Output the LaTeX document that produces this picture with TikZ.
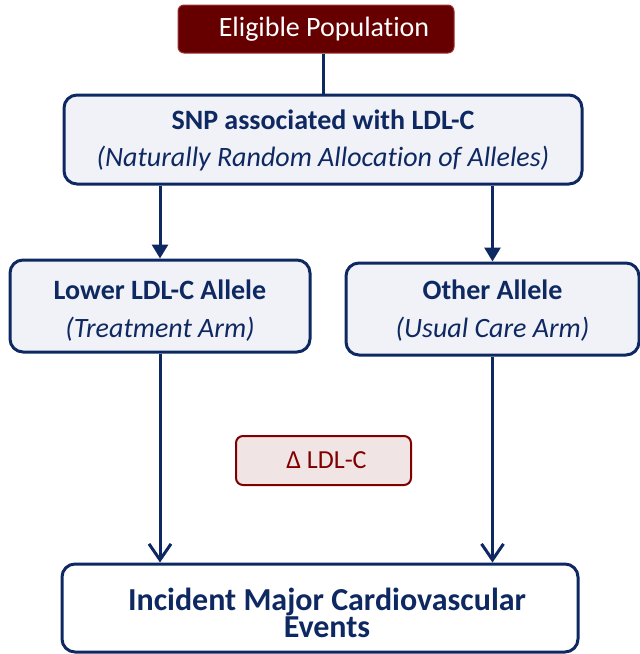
\documentclass[tikz,border=0pt]{standalone}
\usepackage{fontspec}
\setmainfont{Carlito}[Ligatures=NoCommon]
\usepackage{tikz}
\usetikzlibrary{positioning, arrows.meta}

\definecolor{navy}{RGB}{14,40,98}
\definecolor{paleblue}{RGB}{241,242,247}
\definecolor{maroon}{RGB}{102,0,0}
\definecolor{maroonline}{RGB}{160,50,50}
\definecolor{deltared}{RGB}{128,0,0}
\definecolor{palered}{RGB}{240,228,228}

\begin{document}
\begin{tikzpicture}[x=1pt, y=-1pt,
        box/.style={draw=navy, line width=3pt, rounded corners=13pt, fill=paleblue,
            text=navy, align=center, inner sep=0pt, font=\fontsize{28}{33}\selectfont},
        link/.style={navy, line width=3pt},
        fillarrow/.style={link, -{Triangle[width=16pt,length=14pt]}},
        openarrow/.style={link, -{Straight Barb[width=22pt,length=16pt]}}]
        \useasboundingbox (0,0) rectangle (640,654);

        \node[fill=maroon, draw=maroonline, line width=1pt, rounded corners=6pt,
            minimum width=276pt, minimum height=48pt, text=white,
            font=\fontsize{28}{32}\selectfont] (elig) at (316,29) {\hspace{16pt}Eligible Population};

        \node[box, minimum width=518pt, minimum height=89pt,
            text height=60pt, text depth=5.6pt] (snp) at (323,139.5) {
            \textbf{SNP associated with LDL-C}\\[4.5pt]
            \textit{(Naturally Random Allocation of Alleles)}
        };

        \node[box, minimum width=300pt, minimum height=92pt,
            text height=66pt, text depth=4pt] (lower) at (160,306) {
            \textbf{Lower LDL-C Allele}\\[5pt]
            \textit{(Treatment Arm)}
        };

        \node[box, minimum width=293pt, minimum height=92pt,
            text height=60pt, text depth=4pt] (other) at (492.5,309) {
            \textbf{Other Allele}\\[5pt]
            \textit{(Usual Care Arm)}
        };

        \node[draw=deltared, line width=2pt, rounded corners=7pt, fill=palered,
            minimum width=175pt, minimum height=49pt, text=deltared,
            font=\fontsize{26}{30}\selectfont] (delta) at (323.5,460.5) {\hspace*{6pt}Δ LDL-C};

        \node[box, fill=white, minimum width=516pt, minimum height=88pt,
            text height=64pt, text depth=6pt,
            font=\fontsize{32}{27}\selectfont\bfseries] (events) at (320,608) {
            \hspace*{14pt}Incident Major Cardiovascular\\\hspace*{14pt}Events
        };

        \draw[link] (snp.north |- elig.south) -- (snp.north);
        \draw[fillarrow] (snp.south -| lower.north) -- (lower.north);
        \draw[fillarrow] (snp.south -| other.north) -- (other.north);
        \draw[openarrow] (lower.south) -- (lower.south |- events.north);
        \draw[openarrow] (other.south) -- (other.south |- events.north);

    \end{tikzpicture}
\end{document}
